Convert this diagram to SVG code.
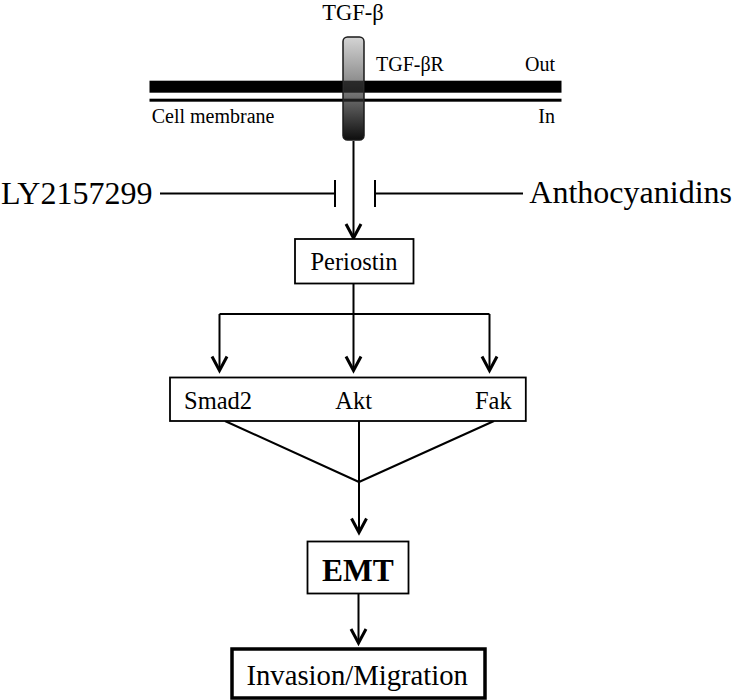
<svg xmlns="http://www.w3.org/2000/svg" width="733" height="700" viewBox="0 0 733 700">
<style>
text{font-family:"Liberation Serif","Times New Roman",serif;fill:#000}
.box{fill:#fff;stroke:#000;stroke-width:1.8}
.ln{fill:none;stroke:#000;stroke-width:2}
.big{font-size:32px}
.mid{font-size:24.5px}
.sm{font-size:20px}
</style>
<defs>
<linearGradient id="rg" x1="0" y1="0" x2="0" y2="1">
<stop offset="0" stop-color="#d4d4d4"/>
<stop offset="0.45" stop-color="#8a8a8a"/>
<stop offset="1" stop-color="#0e0e0e"/>
</linearGradient>
<marker id="arr" markerUnits="userSpaceOnUse" markerWidth="24" markerHeight="24" viewBox="-18 -12 24 24" refX="0" refY="0" orient="auto">
<path d="M-14,-7.5 L0,0 L-14,7.5" fill="none" stroke="#000" stroke-width="3"/>
</marker>
</defs>
<rect width="733" height="700" fill="#fff"/>

<g id="membrane">
<rect x="149.5" y="80.7" width="412" height="12" fill="#000"/>
<rect x="149.5" y="98.7" width="412" height="3" fill="#000"/>
<text class="sm" x="151.7" y="123.3">Cell membrane</text>
<text class="sm" x="555" y="70.7" text-anchor="end">Out</text>
<text class="sm" x="555" y="123.3" text-anchor="end">In</text>
</g>

<g id="receptor">
<rect x="343" y="37" width="21" height="103" rx="4.5" fill="url(#rg)" stroke="#1a1a1a" stroke-width="1.5"/>
<rect x="343.8" y="80.7" width="19.4" height="12" fill="#000" opacity="0.7"/>
<rect x="343.8" y="98.7" width="19.4" height="3" fill="#000" opacity="0.7"/>
<text class="sm" x="376" y="70.7">TGF-βR</text>
</g>

<g id="tgfb">
<text x="353" y="19.5" text-anchor="middle" font-size="22.5">TGF-β</text>
</g>

<g id="ly">
<text class="big" x="1" y="204">LY2157299</text>
</g>
<g id="antho">
<text class="big" x="732" y="202.5" text-anchor="end">Anthocyanidins</text>
</g>

<g id="connectors">
<path class="ln" d="M353.5,141 V238" marker-end="url(#arr)"/>
<path class="ln" d="M160,193.5 H335 M335,180 V207"/>
<path class="ln" d="M523,193.5 H375 M375,180 V207"/>
<path class="ln" d="M353.5,283 V314 M219.5,314 H489.5"/>
<path class="ln" d="M219.5,314 V370.5" marker-end="url(#arr)"/>
<path class="ln" d="M353.5,314 V370.5" marker-end="url(#arr)"/>
<path class="ln" d="M489.5,314 V370.5" marker-end="url(#arr)"/>
<path class="ln" d="M225,421 L359,482 M359,421 V482 M494,421 L359,482"/>
<path class="ln" d="M359,482 V532.5" marker-end="url(#arr)"/>
<path class="ln" d="M358.5,593.5 V643" marker-end="url(#arr)"/>
</g>

<g id="periostin">
<rect class="box" x="295" y="239" width="118.5" height="44.5"/>
<text class="mid" x="354" y="270" text-anchor="middle">Periostin</text>
</g>

<g id="kinases">
<rect class="box" x="170" y="377.5" width="355.8" height="43.5"/>
<text class="mid" x="184" y="409.3">Smad2</text>
<text class="mid" x="353.7" y="409.3" text-anchor="middle">Akt</text>
<text class="mid" x="511.7" y="409.3" text-anchor="end">Fak</text>
</g>

<g id="emt">
<rect class="box" x="307.5" y="541.5" width="101" height="52"/>
<text x="357.8" y="580.7" text-anchor="middle" font-size="31.5" font-weight="bold">EMT</text>
</g>

<g id="invasion">
<rect x="232" y="649" width="253" height="49" fill="#fff" stroke="#000" stroke-width="3.5"/>
<text x="357.2" y="685" text-anchor="middle" font-size="28.7">Invasion/Migration</text>
</g>
</svg>
